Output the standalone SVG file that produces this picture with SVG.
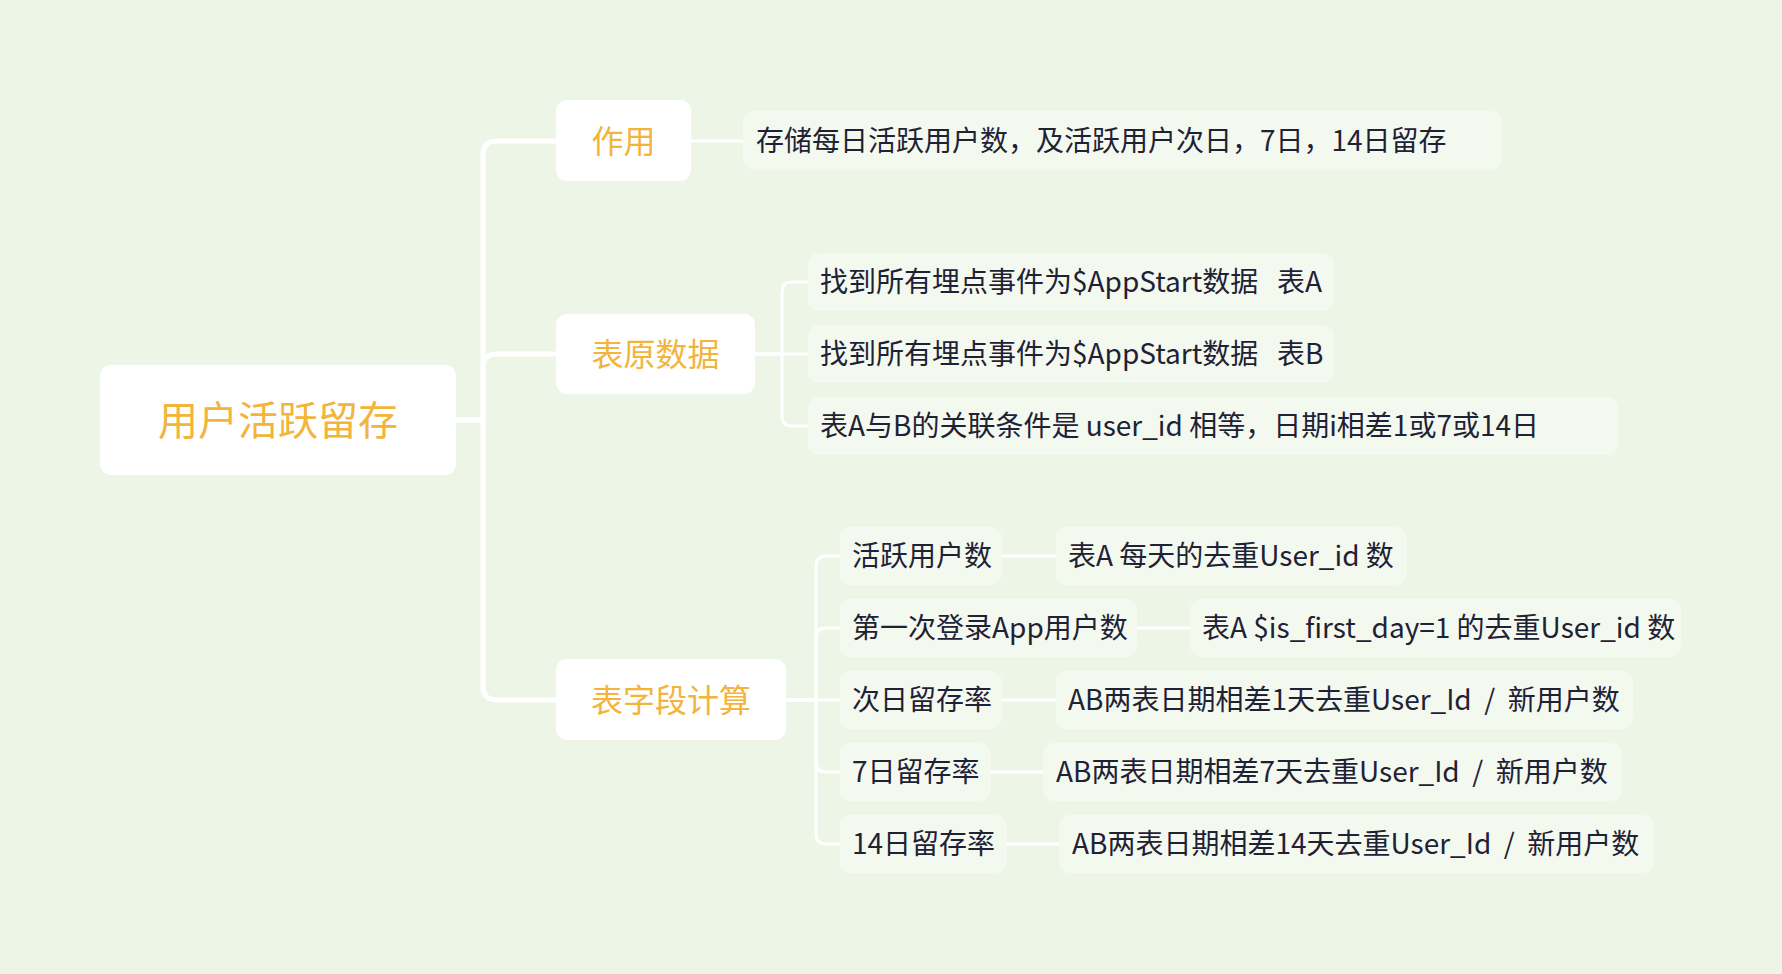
<svg xmlns="http://www.w3.org/2000/svg" width="1782" height="974" viewBox="0 0 1782 974">
<style>
.bg{fill:#EDF5E7}
.n1{fill:#FFFFFF}
.n2{fill:#F4F9F0}
.t0{font-family:"Noto Sans CJK SC","Noto Sans",sans-serif;font-size:40px;fill:#F2B43A;text-anchor:middle;dominant-baseline:central}
.t1{font-family:"Noto Sans CJK SC","Noto Sans",sans-serif;font-size:32px;fill:#F2B43A;text-anchor:middle;dominant-baseline:central}
.t2{font-family:"Noto Sans CJK SC","Noto Sans",sans-serif;font-size:28px;fill:#1F2235;dominant-baseline:central}
.c1{fill:none;stroke:#FFFFFF;stroke-width:5;stroke-linecap:round;stroke-linejoin:round}
.c2{fill:none;stroke:#FFFFFF;stroke-width:3;stroke-linecap:round;stroke-linejoin:round}
</style>
<rect class="bg" x="0" y="0" width="1782" height="974"/>
<g id="connectors">
<path class="c1" d="M456,420 H483 V155 Q483,141 497,141 H556"/>
<path class="c1" d="M456,420 H483 V368 Q483,354 497,354 H556"/>
<path class="c1" d="M456,420 H483 V686 Q483,700 497,700 H556"/>
<path class="c2" d="M691,141 H743"/>
<path class="c2" d="M755,354 H782 V292 Q782,282 792,282 H808"/>
<path class="c2" d="M755,354 H808"/>
<path class="c2" d="M755,354 H782 V416 Q782,426 792,426 H808"/>
<path class="c2" d="M786,700 H816 V566 Q816,556 826,556 H840"/>
<path class="c2" d="M786,700 H816 V638 Q816,628 826,628 H840"/>
<path class="c2" d="M786,700 H840"/>
<path class="c2" d="M786,700 H816 V762 Q816,772 826,772 H840"/>
<path class="c2" d="M786,700 H816 V834 Q816,844 826,844 H840"/>
<path class="c2" d="M1002,556 H1056"/>
<path class="c2" d="M1137,628 H1190"/>
<path class="c2" d="M1002,700 H1056"/>
<path class="c2" d="M991,772 H1043"/>
<path class="c2" d="M1007,844 H1059"/>
</g>
<g id="root"><rect class="n1" x="100" y="365" width="356" height="110" rx="11"/><text class="t0" x="278" y="418">用户活跃留存</text></g>
<g id="zuoyong"><rect class="n1" x="556" y="100" width="135" height="81" rx="11"/><text class="t1" x="623.5" y="139">作用</text></g>
<g id="biaoyuanshuju"><rect class="n1" x="556" y="314" width="199" height="80" rx="11"/><text class="t1" x="655.5" y="352">表原数据</text></g>
<g id="biaoziduanjisuan"><rect class="n1" x="556" y="659" width="230" height="81" rx="11"/><text class="t1" x="671" y="698">表字段计算</text></g>
<g id="zuoyong-desc"><rect class="n2" x="743" y="111" width="759" height="59" rx="11"/><text class="t2" x="756" y="139">存储每日活跃用户数，及活跃用户次日，7日，14日留存</text></g>
<g id="tableA"><rect class="n2" x="808" y="253" width="526" height="58" rx="11"/><text class="t2" x="820" y="280" xml:space="preserve">找到所有埋点事件为$AppStart数据   表A</text></g>
<g id="tableB"><rect class="n2" x="808" y="325" width="526" height="58" rx="11"/><text class="t2" x="820" y="352" xml:space="preserve">找到所有埋点事件为$AppStart数据   表B</text></g>
<g id="join"><rect class="n2" x="808" y="397" width="810" height="58" rx="11"/><text class="t2" x="820" y="424">表A与B的关联条件是 user_id 相等，日期i相差1或7或14日</text></g>
<g id="dau"><rect class="n2" x="840" y="527" width="162" height="58" rx="11"/><text class="t2" x="852" y="554">活跃用户数</text></g>
<g id="first"><rect class="n2" x="840" y="599" width="297" height="58" rx="11"/><text class="t2" x="852" y="626">第一次登录App用户数</text></g>
<g id="d1"><rect class="n2" x="840" y="671" width="162" height="58" rx="11"/><text class="t2" x="852" y="698">次日留存率</text></g>
<g id="d7"><rect class="n2" x="840" y="743" width="151" height="58" rx="11"/><text class="t2" x="852" y="770">7日留存率</text></g>
<g id="d14"><rect class="n2" x="840" y="815" width="167" height="58" rx="11"/><text class="t2" x="852" y="842">14日留存率</text></g>
<g id="dau-desc"><rect class="n2" x="1056" y="527" width="351" height="58" rx="11"/><text class="t2" x="1068" y="554">表A 每天的去重User_id 数</text></g>
<g id="first-desc"><rect class="n2" x="1190" y="599" width="491" height="58" rx="11"/><text class="t2" x="1202" y="626">表A $is_first_day=1 的去重User_id 数</text></g>
<g id="d1-desc"><rect class="n2" x="1056" y="671" width="577" height="58" rx="11"/><text class="t2" x="1068" y="698" xml:space="preserve">AB两表日期相差1天去重User_Id  /  新用户数</text></g>
<g id="d7-desc"><rect class="n2" x="1043" y="743" width="579" height="58" rx="11"/><text class="t2" x="1056" y="770" xml:space="preserve">AB两表日期相差7天去重User_Id  /  新用户数</text></g>
<g id="d14-desc"><rect class="n2" x="1059" y="815" width="595" height="58" rx="11"/><text class="t2" x="1072" y="842" xml:space="preserve">AB两表日期相差14天去重User_Id  /  新用户数</text></g>
</svg>
